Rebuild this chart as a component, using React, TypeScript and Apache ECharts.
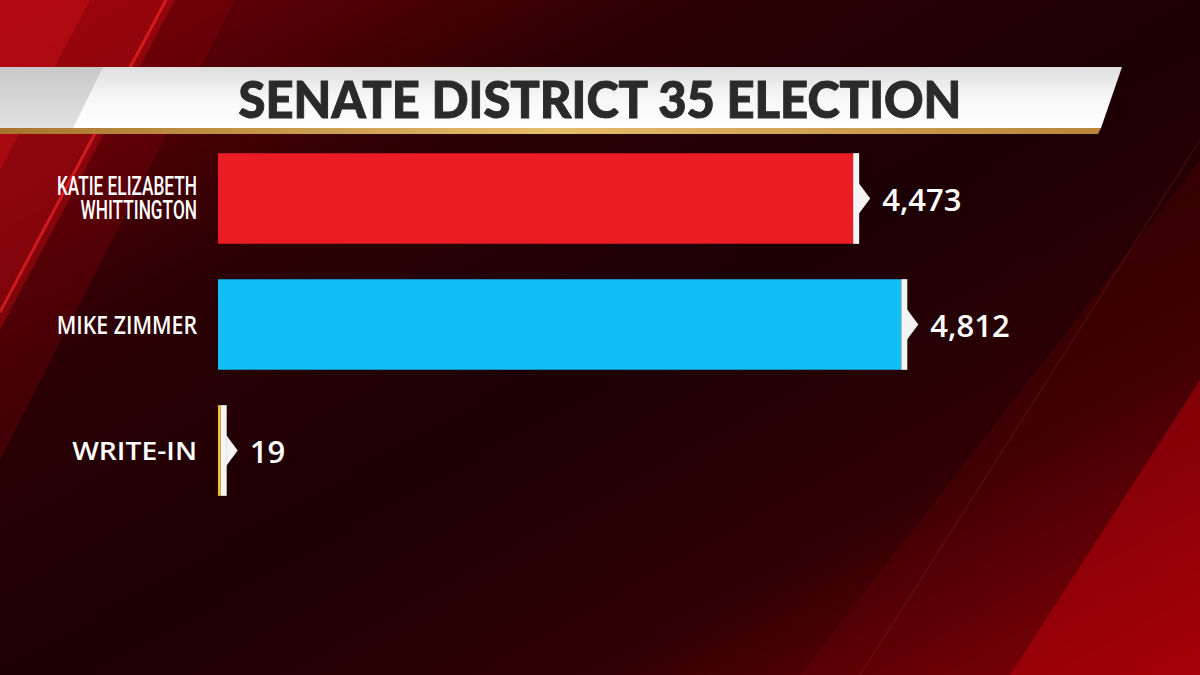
import React, { useEffect, useRef } from "react";
import * as echarts from "echarts";

const TITLE = "SENATE DISTRICT 35 ELECTION";
const candidates = ["KATIE ELIZABETH\nWHITTINGTON", "MIKE ZIMMER", "WRITE-IN"];
const votes = [4473, 4812, 19];

const BAR_COLORS = ["#ec1c24", "#13bdf5", "#f2c12e"];
const NAME_STYLES = [
  { fontFamily: "Roboto", fontWeight: 500, fontSize: 25, lineHeight: 24, scaleX: 0.69 },
  { fontFamily: "Open Sans", fontWeight: 600, fontSize: 25, lineHeight: 26, scaleX: 0.85 },
  { fontFamily: "Open Sans", fontWeight: 600, fontSize: 25, lineHeight: 26, scaleX: 1.13 },
];

export default function App() {
  const ref = useRef<HTMLDivElement>(null);
  useEffect(() => {
    document.body.style.margin = "0";
    const chart = echarts.init(ref.current!, null, { renderer: "svg" });
    const option: any = {
      animation: false,
      backgroundColor: {
        type: "linear", x: 0, y: 0, x2: 1, y2: 1,
        colorStops: [
          { offset: 0, color: "#760007" },
          { offset: 0.28, color: "#2c0004" },
          { offset: 0.52, color: "#1c0003" },
          { offset: 0.75, color: "#300004" },
          { offset: 1, color: "#8a0008" },
        ],
      },
      graphic: [
        { type: "polygon", z: -10, shape: { points: [[0, 0], [175, 0], [0, 330]] }, style: { fill: "rgba(210,10,20,0.45)" } },
        { type: "polygon", z: -10, shape: { points: [[0, 0], [90, 0], [0, 170]] }, style: { fill: "rgba(230,20,30,0.3)" } },
        { type: "polygon", z: -10, shape: { points: [[0, 330], [175, 0], [235, 0], [0, 460]] }, style: { fill: "rgba(150,0,10,0.25)" } },
        { type: "line", z: -9, shape: { x1: 0, y1: 312, x2: 166, y2: 0 }, style: { stroke: "rgba(255,40,40,0.6)", lineWidth: 3 } },
        { type: "polygon", z: -10, shape: { points: [[1200, 160], [1200, 675], [800, 675]] }, style: { fill: "rgba(150,0,10,0.15)" } },
        { type: "polygon", z: -10, shape: { points: [[1200, 380], [1200, 675], [1010, 675]] }, style: { fill: "rgba(200,0,12,0.45)" } },
        { type: "line", z: -9, shape: { x1: 860, y1: 675, x2: 1200, y2: 140 }, style: { stroke: "rgba(255,90,90,0.2)", lineWidth: 1 } },
        // banner
        {
          type: "polygon", z: 5,
          shape: { points: [[0, 67], [1122, 67], [1101, 128], [0, 128]] },
          style: {
            fill: { type: "linear", x: 0, y: 0, x2: 0, y2: 1, colorStops: [
              { offset: 0, color: "#dedede" }, { offset: 0.5, color: "#f7f7f7" }, { offset: 1, color: "#ffffff" },
            ] },
          },
        },
        {
          type: "polygon", z: 6,
          shape: { points: [[0, 67], [103, 67], [73, 128], [0, 128]] },
          style: {
            fill: { type: "linear", x: 0, y: 0, x2: 0, y2: 1, colorStops: [
              { offset: 0, color: "#c8c8c8" }, { offset: 1, color: "#e2e2e2" },
            ] },
          },
        },
        {
          type: "polygon", z: 6,
          shape: { points: [[0, 128], [1101, 128], [1098, 134], [0, 134]] },
          style: {
            fill: { type: "linear", x: 0, y: 0, x2: 1, y2: 0, colorStops: [
              { offset: 0, color: "#a8742c" }, { offset: 0.5, color: "#e6bd6a" }, { offset: 1, color: "#b9853a" },
            ] },
          },
        },
        {
          type: "text", z: 7, x: 600, y: 98, scaleX: 0.94,
          style: {
            text: TITLE, fill: "#2a2a2a", fontFamily: "Lato", fontWeight: 900, fontSize: 52,
            align: "center", verticalAlign: "middle",
            stroke: "#2a2a2a", lineWidth: 1,
          },
        },
      ],
      grid: { left: 218, top: 135.5, width: 852, height: 378 },
      xAxis: { type: "value", min: 0, max: 6000, show: false },
      yAxis: { type: "category", data: candidates, inverse: true, show: false },
      series: [
        {
          type: "custom",
          data: votes.map((v, i) => [v, i]),
          renderItem: (params: any, api: any) => {
            const i = params.dataIndex;
            const v = api.value(0);
            const c = api.value(1);
            const p0 = api.coord([0, c]);
            const p1 = api.coord([v, c]);
            const band = api.size([0, 1])[1];
            const h = band * 0.72;
            const cy = p0[1];
            const top = cy - h / 2;
            const cap = 6;
            const aw = 11;
            const ah = 31;
            const xe = p1[0] + cap;
            const ns = NAME_STYLES[i];
            return {
              type: "group",
              children: [
                { type: "rect", shape: { x: p0[0], y: top, width: p1[0] - p0[0], height: h }, style: { fill: BAR_COLORS[i] } },
                { type: "rect", shape: { x: p1[0], y: top, width: cap, height: h }, style: { fill: "#f4f4f4" } },
                { type: "polygon", shape: { points: [[xe - 0.5, cy - ah / 2], [xe + aw, cy], [xe - 0.5, cy + ah / 2]] }, style: { fill: "#f4f4f4" } },
                {
                  type: "text", x: xe + aw + 12, y: cy,
                  style: {
                    text: v.toLocaleString("en-US"), fill: "#ffffff", fontFamily: "Open Sans", fontWeight: 600,
                    fontSize: 31, align: "left", verticalAlign: "middle",
                  },
                },
                {
                  type: "text", x: p0[0] - 21, y: cy, scaleX: ns.scaleX,
                  style: {
                    text: candidates[i], fill: "#ffffff", fontFamily: ns.fontFamily, fontWeight: ns.fontWeight,
                    fontSize: ns.fontSize, lineHeight: ns.lineHeight, align: "right", verticalAlign: "middle",
                  },
                },
              ],
            };
          },
        },
      ],
    };
    chart.setOption(option);
    return () => chart.dispose();
  }, []);
  return <div ref={ref} style={{ width: 1200, height: 675 }} />;
}
